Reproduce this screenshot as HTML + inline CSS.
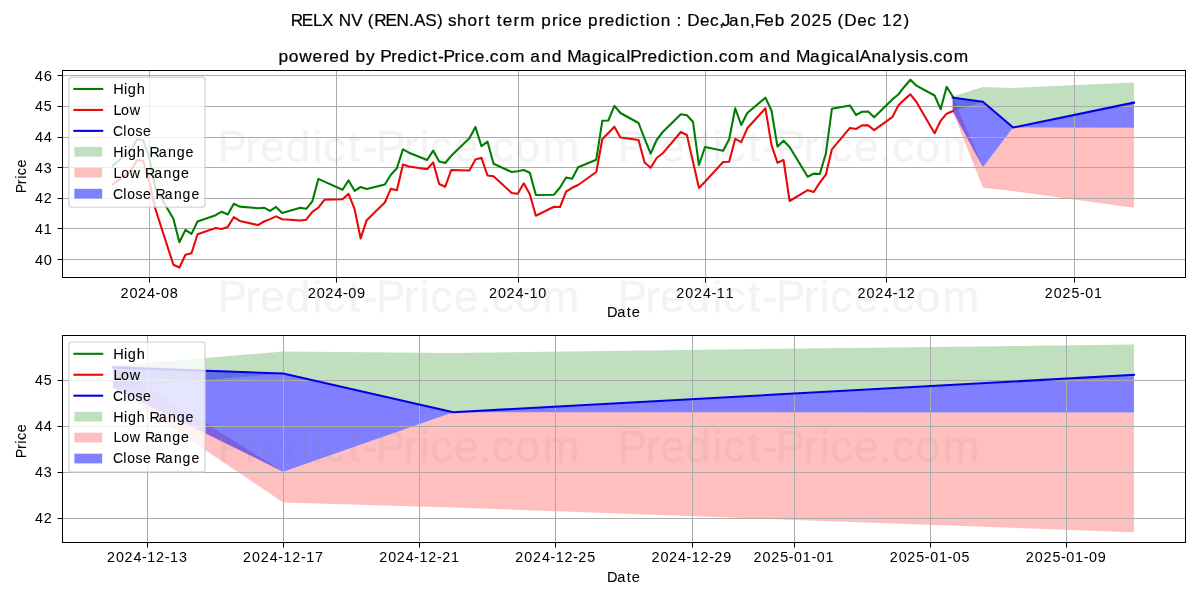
<!DOCTYPE html>
<html lang="en"><head><meta charset="utf-8"><title>RELX NV (REN.AS) short term price prediction</title>
<style>html,body{margin:0;padding:0;background:#fff}body{width:1200px;height:600px;overflow:hidden;font-family:"Liberation Sans",sans-serif}svg{display:block;will-change:transform}text{white-space:pre}</style>
</head><body>
<svg width="1200" height="600" viewBox="0 0 1200 600" font-family="'Liberation Sans', sans-serif">
<rect width="1200" height="600" fill="#fff"/>
<g>
<clipPath id="clip0"><rect x="61.9" y="70.33" width="1123.1" height="206.56"/></clipPath>
<g clip-path="url(#clip0)">
<polygon points="952.71,96.48 982.91,86.98 1013.12,87.96 1133.95,82.39 1133.95,102.6 1013.12,127.56 982.91,101.68 952.71,111.18" fill="#008000" fill-opacity="0.25"/>
<polygon points="952.71,96.48 982.91,167.23 1013.12,127.56 1133.95,127.72 1133.95,207.65 1013.12,191.11 982.91,187.75 952.71,111.18" fill="#ff0000" fill-opacity="0.25"/>
<polygon points="952.71,96.48 982.91,101.68 1013.12,127.56 1133.95,102.6 1133.95,127.72 1013.12,127.56 982.91,167.23 952.71,111.18" fill="#0000ff" fill-opacity="0.5"/>
<rect x="149" y="70" width="1" height="207" fill="#acacac"/>
<rect x="336" y="70" width="1" height="207" fill="#acacac"/>
<rect x="518" y="70" width="1" height="207" fill="#acacac"/>
<rect x="705" y="70" width="1" height="207" fill="#acacac"/>
<rect x="886" y="70" width="1" height="207" fill="#acacac"/>
<rect x="1074" y="70" width="1" height="207" fill="#acacac"/>
<rect x="62" y="259" width="1123" height="1" fill="#acacac"/>
<rect x="62" y="228" width="1123" height="1" fill="#acacac"/>
<rect x="62" y="198" width="1123" height="1" fill="#acacac"/>
<rect x="62" y="167" width="1123" height="1" fill="#acacac"/>
<rect x="62" y="137" width="1123" height="1" fill="#acacac"/>
<rect x="62" y="106" width="1123" height="1" fill="#acacac"/>
<rect x="62" y="75" width="1123" height="1" fill="#acacac"/>
<polyline points="112.95,165.5 131.08,150 137.12,139.3 143.16,140.3 149.2,157 155.24,188 173.37,218.8 179.41,242.3 185.45,229.9 191.49,233.9 197.53,221.5 215.66,215.2 221.7,211.7 227.74,214.5 233.78,203.8 239.82,206.6 257.95,208.2 263.99,207.7 270.03,210.9 276.07,206.9 282.11,212.9 300.24,207.7 306.28,208.8 312.32,201.3 318.36,178.9 324.4,181.6 342.53,189.7 348.57,180.4 354.61,190.8 360.65,187 366.69,189 384.82,184.5 390.86,174.7 396.9,168.3 402.94,149.3 408.98,152.7 427.11,160 433.15,150.6 439.19,161.5 445.23,163 451.27,155.8 469.4,138.3 475.44,127 481.48,146.2 487.52,141.7 493.56,163.8 511.69,172 517.73,171.2 523.77,170 529.81,172.8 535.85,195 553.98,194.7 560.02,187.5 566.06,177.5 572.1,178.7 578.14,167.2 596.27,159.7 602.31,120.8 608.35,120.5 614.39,105.8 620.43,113 638.55,123 644.6,138.7 650.64,153.7 656.68,140 662.72,132 680.84,114.2 686.89,115.3 692.93,121.7 698.97,165 705.01,147 723.13,150.8 729.18,139.2 735.22,108.3 741.26,125 747.3,113 765.42,97.7 771.47,110.5 777.51,146.6 783.55,140.7 789.59,147 807.71,176.7 813.76,173.6 819.8,174 825.84,153.8 831.88,108.8 850,105.6 856.05,115 862.09,111.7 868.13,111.5 874.17,117.3 892.29,99.4 898.34,94.5 904.38,86.7 910.42,79.72 916.46,85.7 934.58,95.5 940.63,109.2 946.67,86.7 952.71,96.3" fill="none" stroke="#007c00" stroke-width="2.08" stroke-linejoin="round" stroke-linecap="square"/>
<polyline points="112.95,184.3 131.08,170.8 137.12,160 143.16,160.8 149.2,181.5 155.24,208.5 173.37,264.7 179.41,267.5 185.45,254.8 191.49,253.2 197.53,234.3 215.66,228 221.7,229.1 227.74,226.9 233.78,217.2 239.82,220.9 257.95,225.1 263.99,221.5 270.03,219.1 276.07,216.4 282.11,219.3 300.24,220.5 306.28,219.7 312.32,211.8 318.36,207.7 324.4,199.8 342.53,199.2 348.57,193.9 354.61,209.2 360.65,238.5 366.69,220.2 384.82,202.5 390.86,188.7 396.9,190.2 402.94,164.5 408.98,166.5 427.11,169.3 433.15,162.4 439.19,184 445.23,186.7 451.27,170 469.4,170.5 475.44,159.5 481.48,157.8 487.52,175.5 493.56,176.3 511.69,193 517.73,193.8 523.77,183.3 529.81,194.2 535.85,215.8 553.98,206.7 560.02,207 566.06,191.7 572.1,187.8 578.14,185 596.27,172 602.31,139.2 608.35,133 614.39,126.7 620.43,137.5 638.55,140 644.6,162.5 650.64,167.8 656.68,158 662.72,153.3 680.84,132 686.89,135 692.93,161.5 698.97,188 705.01,181.7 723.13,162 729.18,161.7 735.22,138.8 741.26,142.2 747.3,128.3 765.42,108.3 771.47,144.8 777.51,162.8 783.55,160 789.59,201 807.71,190.2 813.76,192 819.8,182.6 825.84,174.7 831.88,149.3 850,127.9 856.05,129 862.09,125.4 868.13,125.4 874.17,130.1 892.29,117.2 898.34,105.6 904.38,99.6 910.42,94.3 916.46,102 934.58,133.2 940.63,120.8 946.67,113.7 952.71,111.2" fill="none" stroke="#e80808" stroke-width="2.08" stroke-linejoin="round" stroke-linecap="square"/>
<polyline points="952.71,97.7 982.91,101.68 1013.12,127.56 1133.95,102.6" fill="none" stroke="#0000e6" stroke-width="2.08" stroke-linejoin="round" stroke-linecap="square"/>
</g>
<rect x="149" y="278" width="1" height="4.5" fill="#000"/>
<rect x="336" y="278" width="1" height="4.5" fill="#000"/>
<rect x="518" y="278" width="1" height="4.5" fill="#000"/>
<rect x="705" y="278" width="1" height="4.5" fill="#000"/>
<rect x="886" y="278" width="1" height="4.5" fill="#000"/>
<rect x="1074" y="278" width="1" height="4.5" fill="#000"/>
<rect x="57.5" y="259" width="4.5" height="1" fill="#000"/>
<rect x="57.5" y="228" width="4.5" height="1" fill="#000"/>
<rect x="57.5" y="198" width="4.5" height="1" fill="#000"/>
<rect x="57.5" y="167" width="4.5" height="1" fill="#000"/>
<rect x="57.5" y="137" width="4.5" height="1" fill="#000"/>
<rect x="57.5" y="106" width="4.5" height="1" fill="#000"/>
<rect x="57.5" y="75" width="4.5" height="1" fill="#000"/>
<rect x="62" y="70" width="1" height="208" fill="#000"/>
<rect x="1185" y="70" width="1" height="208" fill="#000"/>
<rect x="62" y="70" width="1124" height="1" fill="#000"/>
<rect x="62" y="277" width="1124" height="1" fill="#000"/>
<text transform="translate(120.21,297.61) scale(0.9849,1)" x="0.18 9.34 18.11 27.26 35.94 41.32 50.27" y="0" font-size="14.72" fill="#000" stroke="#000" stroke-width="0.02">2024-08</text>
<text transform="translate(307.5,297.61) scale(0.9883,1)" x="0.17 9.3 18.03 27.15 35.81 41.16 50.05" y="0" font-size="14.72" fill="#000" stroke="#000" stroke-width="0.02">2024-09</text>
<text transform="translate(488.74,297.61) scale(0.9767,1)" x="0.22 9.46 18.29 27.52 36.26 41.62 50.74" y="0" font-size="14.72" fill="#000" stroke="#000" stroke-width="0.02">2024-10</text>
<text transform="translate(676.02,297.61) scale(0.9700,1)" x="0.25 9.55 18.45 27.74 36.53 41.94 51.04" y="0" font-size="14.72" fill="#000" stroke="#000" stroke-width="0.02">2024-11</text>
<text transform="translate(857.27,297.61) scale(0.9713,1)" x="0.24 9.53 18.42 27.7 36.48 41.88 50.84" y="0" font-size="14.72" fill="#000" stroke="#000" stroke-width="0.02">2024-12</text>
<text transform="translate(1044.55,297.61) scale(0.9673,1)" x="0.26 9.59 18.51 27.78 36.63 42.14 51.19" y="0" font-size="14.72" fill="#000" stroke="#000" stroke-width="0.02">2025-01</text>
<text transform="translate(34.6,264.61) scale(0.9924,1)" x="0.34 9.24" y="0" font-size="14.72" fill="#000" stroke="#000" stroke-width="0.02">40</text>
<text transform="translate(34.54,233.98) scale(0.9717,1)" x="0.43 9.45" y="0" font-size="14.72" fill="#000" stroke="#000" stroke-width="0.02">41</text>
<text transform="translate(34.6,203.35) scale(0.9757,1)" x="0.41 9.27" y="0" font-size="14.72" fill="#000" stroke="#000" stroke-width="0.02">42</text>
<text transform="translate(34.6,172.73) scale(0.9729,1)" x="0.43 9.52" y="0" font-size="14.72" fill="#000" stroke="#000" stroke-width="0.02">43</text>
<text transform="translate(34.6,142.1) scale(0.9937,1)" x="0.33 9.22" y="0" font-size="14.72" fill="#000" stroke="#000" stroke-width="0.02">44</text>
<text transform="translate(34.6,111.47) scale(0.9653,1)" x="0.46 9.56" y="0" font-size="14.72" fill="#000" stroke="#000" stroke-width="0.02">45</text>
<text transform="translate(34.54,80.84) scale(1.0088,1)" x="0.27 9.02" y="0" font-size="14.72" fill="#000" stroke="#000" stroke-width="0.02">46</text>
<text transform="translate(606.87,317.17) scale(1.0047,1)" x="0.1 10.32 19.76 24.76" y="0" font-size="14.51" fill="#000" stroke="#000" stroke-width="0.07">Date</text>
<text transform="translate(26,193.03) rotate(-90) scale(0.9824,1)" x="-0.34 9.03 14.43 18.08 26.1" y="0" font-size="14.51" fill="#000" stroke="#000" stroke-width="0.07">Price</text>
<text transform="translate(277.89,62) scale(0.9942,1)" x="0.58 10.9 21.41 34.87 45.68 51.66 61.97 72.21 78.1 88.74 98.03 102.87 114.06 120.03 130.34 140.98 145.28 155.24 161.1 166.53 177.72 184.12 188.42 197.9 208.08 213.21 222.64 233.53 248.87 253.85 264.94 275.4 285.64 290.94 305.05 316 326.65 330.95 339.75 350.72 354.5 365.69 371.66 381.97 392.61 396.91 406.87 413.01 417.54 427.99 438.31 443.45 452.87 463.77 479.11 484.08 495.18 505.64 515.88 521.17 535.28 546.24 556.89 561.19 569.98 580.96 585.13 597.16 606.91 617.89 622.74 632.17 641.16 645.52 654.34 659.48 668.9 679.8" y="0" font-size="17.42" fill="#000" stroke="#000" stroke-width="0.22">powered by Predict-Price.com and MagicalPrediction.com and MagicalAnalysis.com</text>
<rect x="68.85" y="77.28" width="136.25" height="129.83" rx="2.78" ry="2.78" fill="#fff" fill-opacity="0.8" stroke="#ccc" stroke-opacity="0.8" stroke-width="1.39"/>
<line x1="74.4" y1="88.97" x2="102.18" y2="88.97" stroke="#007c00" stroke-width="2.08" stroke-linecap="square"/>
<text transform="translate(113.28,93.83) scale(1.0028,1)" x="-0.04 10.73 14.53 23.39" y="0" font-size="14.51" fill="#000" stroke="#000" stroke-width="0.07">High</text>
<line x1="74.4" y1="109.92" x2="102.18" y2="109.92" stroke="#e80808" stroke-width="2.08" stroke-linecap="square"/>
<text transform="translate(113.32,114.78) scale(0.9869,1)" x="0.19 7.86 16.68" y="0" font-size="14.51" fill="#000" stroke="#000" stroke-width="0.07">Low</text>
<line x1="74.4" y1="130.86" x2="102.18" y2="130.86" stroke="#0000e6" stroke-width="2.08" stroke-linecap="square"/>
<text transform="translate(113.27,135.72) scale(0.9594,1)" x="-0.26 10.5 14.51 23.2 30.94" y="0" font-size="14.51" fill="#000" stroke="#000" stroke-width="0.07">Close</text>
<rect x="74.4" y="146.94" width="27.78" height="9.72" fill="#008000" fill-opacity="0.25"/>
<text transform="translate(113.31,156.67) scale(0.9821,1)" x="0.07 10.99 14.91 23.97 32.47 36.86 46.3 55.65 64.5 73.45" y="0" font-size="14.51" fill="#000" stroke="#000" stroke-width="0.07">High Range</text>
<rect x="74.4" y="167.89" width="27.78" height="9.72" fill="#ff0000" fill-opacity="0.25"/>
<text transform="translate(113.35,177.61) scale(0.9763,1)" x="0.23 7.98 16.92 27.98 32.43 41.92 51.32 60.22 69.22" y="0" font-size="14.51" fill="#000" stroke="#000" stroke-width="0.07">Low Range</text>
<rect x="74.4" y="188.83" width="27.78" height="9.72" fill="#0000ff" fill-opacity="0.5"/>
<text transform="translate(113.3,198.56) scale(0.9647,1)" x="-0.29 10.43 14.41 23.05 30.75 39.18 43.75 53.34 62.85 71.86 80.97" y="0" font-size="14.51" fill="#000" stroke="#000" stroke-width="0.07">Close Range</text>
</g>
<g>
<clipPath id="clip1"><rect x="61.9" y="335.17" width="1123.1" height="206.56"/></clipPath>
<g clip-path="url(#clip1)">
<polygon points="112.95,365.67 283.12,351.44 453.29,352.91 1133.95,344.56 1133.95,374.86 453.29,412.27 283.12,373.48 112.95,387.71" fill="#008000" fill-opacity="0.25"/>
<polygon points="112.95,365.67 283.12,471.73 453.29,412.27 1133.95,412.5 1133.95,532.33 453.29,507.54 283.12,502.49 112.95,387.71" fill="#ff0000" fill-opacity="0.25"/>
<polygon points="112.95,365.67 283.12,373.48 453.29,412.27 1133.95,374.86 1133.95,412.5 453.29,412.27 283.12,471.73 112.95,387.71" fill="#0000ff" fill-opacity="0.5"/>
<rect x="147" y="335" width="1" height="207" fill="#acacac"/>
<rect x="283" y="335" width="1" height="207" fill="#acacac"/>
<rect x="419" y="335" width="1" height="207" fill="#acacac"/>
<rect x="555" y="335" width="1" height="207" fill="#acacac"/>
<rect x="692" y="335" width="1" height="207" fill="#acacac"/>
<rect x="794" y="335" width="1" height="207" fill="#acacac"/>
<rect x="930" y="335" width="1" height="207" fill="#acacac"/>
<rect x="1066" y="335" width="1" height="207" fill="#acacac"/>
<rect x="62" y="518" width="1123" height="1" fill="#acacac"/>
<rect x="62" y="472" width="1123" height="1" fill="#acacac"/>
<rect x="62" y="426" width="1123" height="1" fill="#acacac"/>
<rect x="62" y="380" width="1123" height="1" fill="#acacac"/>
<polyline points="112.95,367.51 283.12,373.48 453.29,412.27 1133.95,374.86" fill="none" stroke="#0000e6" stroke-width="2.08" stroke-linejoin="round" stroke-linecap="square"/>
</g>
<rect x="147" y="543" width="1" height="4.5" fill="#000"/>
<rect x="283" y="543" width="1" height="4.5" fill="#000"/>
<rect x="419" y="543" width="1" height="4.5" fill="#000"/>
<rect x="555" y="543" width="1" height="4.5" fill="#000"/>
<rect x="692" y="543" width="1" height="4.5" fill="#000"/>
<rect x="794" y="543" width="1" height="4.5" fill="#000"/>
<rect x="930" y="543" width="1" height="4.5" fill="#000"/>
<rect x="1066" y="543" width="1" height="4.5" fill="#000"/>
<rect x="57.5" y="518" width="4.5" height="1" fill="#000"/>
<rect x="57.5" y="472" width="4.5" height="1" fill="#000"/>
<rect x="57.5" y="426" width="4.5" height="1" fill="#000"/>
<rect x="57.5" y="380" width="4.5" height="1" fill="#000"/>
<rect x="62" y="335" width="1" height="208" fill="#000"/>
<rect x="1185" y="335" width="1" height="208" fill="#000"/>
<rect x="62" y="335" width="1124" height="1" fill="#000"/>
<rect x="62" y="542" width="1124" height="1" fill="#000"/>
<text transform="translate(106.67,562.44) scale(0.9690,1)" x="0.25 9.56 18.47 27.77 36.57 41.99 50.97 59.95 65.37 74.57" y="0" font-size="14.72" fill="#000" stroke="#000" stroke-width="0.02">2024-12-13</text>
<text transform="translate(242.8,562.44) scale(0.9709,1)" x="0.24 9.54 18.43 27.71 36.49 41.9 50.86 59.83 65.24 74.37" y="0" font-size="14.72" fill="#000" stroke="#000" stroke-width="0.02">2024-12-17</text>
<text transform="translate(378.93,562.44) scale(0.9696,1)" x="0.25 9.55 18.46 27.75 36.54 41.96 50.93 59.91 65.2 74.43" y="0" font-size="14.72" fill="#000" stroke="#000" stroke-width="0.02">2024-12-21</text>
<text transform="translate(515.07,562.44) scale(0.9682,1)" x="0.26 9.58 18.49 27.8 36.6 42.03 51.02 60.01 65.31 74.57" y="0" font-size="14.72" fill="#000" stroke="#000" stroke-width="0.02">2024-12-25</text>
<text transform="translate(651.2,562.44) scale(0.9782,1)" x="0.21 9.43 18.26 27.47 36.2 41.55 50.45 59.37 64.59 73.78" y="0" font-size="14.72" fill="#000" stroke="#000" stroke-width="0.02">2024-12-29</text>
<text transform="translate(753.3,562.44) scale(0.9708,1)" x="0.24 9.54 18.43 27.67 36.5 41.98 51 59.84 65.32 74.34" y="0" font-size="14.72" fill="#000" stroke="#000" stroke-width="0.02">2025-01-01</text>
<text transform="translate(889.43,562.44) scale(0.9693,1)" x="0.25 9.56 18.47 27.72 36.56 42.05 51.08 59.94 65.43 74.48" y="0" font-size="14.72" fill="#000" stroke="#000" stroke-width="0.02">2025-01-05</text>
<text transform="translate(1025.57,562.44) scale(0.9793,1)" x="0.21 9.42 18.23 27.39 36.16 41.58 50.51 59.3 64.72 73.69" y="0" font-size="14.72" fill="#000" stroke="#000" stroke-width="0.02">2025-01-09</text>
<text transform="translate(34.6,523.14) scale(0.9757,1)" x="0.41 9.27" y="0" font-size="14.72" fill="#000" stroke="#000" stroke-width="0.02">42</text>
<text transform="translate(34.6,477.23) scale(0.9729,1)" x="0.43 9.52" y="0" font-size="14.72" fill="#000" stroke="#000" stroke-width="0.02">43</text>
<text transform="translate(34.6,431.32) scale(0.9937,1)" x="0.33 9.22" y="0" font-size="14.72" fill="#000" stroke="#000" stroke-width="0.02">44</text>
<text transform="translate(34.6,385.41) scale(0.9653,1)" x="0.46 9.56" y="0" font-size="14.72" fill="#000" stroke="#000" stroke-width="0.02">45</text>
<text transform="translate(606.87,582) scale(1.0047,1)" x="0.1 10.32 19.76 24.76" y="0" font-size="14.51" fill="#000" stroke="#000" stroke-width="0.07">Date</text>
<text transform="translate(26.12,457.87) rotate(-90) scale(0.9824,1)" x="-0.34 9.03 14.43 18.08 26.1" y="0" font-size="14.51" fill="#000" stroke="#000" stroke-width="0.07">Price</text>
<rect x="68.85" y="342.11" width="136.25" height="129.83" rx="2.78" ry="2.78" fill="#fff" fill-opacity="0.8" stroke="#ccc" stroke-opacity="0.8" stroke-width="1.39"/>
<line x1="74.4" y1="353.81" x2="102.18" y2="353.81" stroke="#007c00" stroke-width="2.08" stroke-linecap="square"/>
<text transform="translate(113.28,358.67) scale(1.0028,1)" x="-0.04 10.73 14.53 23.39" y="0" font-size="14.51" fill="#000" stroke="#000" stroke-width="0.07">High</text>
<line x1="74.4" y1="374.75" x2="102.18" y2="374.75" stroke="#e80808" stroke-width="2.08" stroke-linecap="square"/>
<text transform="translate(113.32,379.61) scale(0.9869,1)" x="0.19 7.86 16.68" y="0" font-size="14.51" fill="#000" stroke="#000" stroke-width="0.07">Low</text>
<line x1="74.4" y1="395.69" x2="102.18" y2="395.69" stroke="#0000e6" stroke-width="2.08" stroke-linecap="square"/>
<text transform="translate(113.27,400.56) scale(0.9594,1)" x="-0.26 10.5 14.51 23.2 30.94" y="0" font-size="14.51" fill="#000" stroke="#000" stroke-width="0.07">Close</text>
<rect x="74.4" y="411.78" width="27.78" height="9.72" fill="#008000" fill-opacity="0.25"/>
<text transform="translate(113.31,421.5) scale(0.9821,1)" x="0.07 10.99 14.91 23.97 32.47 36.86 46.3 55.65 64.5 73.45" y="0" font-size="14.51" fill="#000" stroke="#000" stroke-width="0.07">High Range</text>
<rect x="74.4" y="432.72" width="27.78" height="9.72" fill="#ff0000" fill-opacity="0.25"/>
<text transform="translate(113.35,442.44) scale(0.9763,1)" x="0.23 7.98 16.92 27.98 32.43 41.92 51.32 60.22 69.22" y="0" font-size="14.51" fill="#000" stroke="#000" stroke-width="0.07">Low Range</text>
<rect x="74.4" y="453.67" width="27.78" height="9.72" fill="#0000ff" fill-opacity="0.5"/>
<text transform="translate(113.3,463.39) scale(0.9647,1)" x="-0.29 10.43 14.41 23.05 30.75 39.18 43.75 53.34 62.85 71.86 80.97" y="0" font-size="14.51" fill="#000" stroke="#000" stroke-width="0.07">Close Range</text>
</g>
<text transform="translate(290.8,26) scale(0.9828,1)" x="-0.12 11.25 22.68 31.85 43.46 48.89 61.47 73.06 78.41 84.91 96.28 107.53 120.4 125.49 136.74 148.66 154.42 159.97 169.15 179.68 190.6 197.5 203.27 209.51 215.69 226.61 233.43 248.86 254.88 265.9 272.36 276.74 286.34 296.34 302.36 313.38 319.44 329.87 340.6 344.98 355.04 361.24 365.85 376.43 386.58 392.39 397.65 403.3 416.47 426.57 435.86 438.53 445.85 457.07 467.32 472.12 481.85 492.49 502.58 508.28 519.26 529.81 540.72 551.01 556.36 563.26 576.42 586.53 595.72 601.56 612.18 623.47" y="0" font-size="17.42" fill="#000" stroke="#000" stroke-width="0.22">RELX NV (REN.AS) short term price prediction : Dec,Jan,Feb 2025 (Dec 12)</text>
<text transform="translate(218.97,462) scale(1.0153,1)" x="-1.47 25.94 40.57 65.87 92.1 102.52 127.05 141.38 154.55 181.97 197.74 208.16 231.39 256.47 268.95 292.04 318.63" y="0" font-size="43.54" fill="#808080" opacity="0.09" stroke="#808080" stroke-width="0.3">Predict-Price.com</text>
<text transform="translate(218.97,312) scale(1.0153,1)" x="-1.47 25.94 40.57 65.87 92.1 102.52 127.05 141.38 154.55 181.97 197.74 208.16 231.39 256.47 268.95 292.04 318.63" y="0" font-size="43.54" fill="#808080" opacity="0.09" stroke="#808080" stroke-width="0.3">Predict-Price.com</text>
<text transform="translate(218.97,162) scale(1.0153,1)" x="-1.47 25.94 40.57 65.87 92.1 102.52 127.05 141.38 154.55 181.97 197.74 208.16 231.39 256.47 268.95 292.04 318.63" y="0" font-size="43.54" fill="#808080" opacity="0.09" stroke="#808080" stroke-width="0.3">Predict-Price.com</text>
<text transform="translate(618.97,462) scale(1.0153,1)" x="-1.47 25.94 40.57 65.87 92.1 102.52 127.05 141.38 154.55 181.97 197.74 208.16 231.39 256.47 268.95 292.04 318.63" y="0" font-size="43.54" fill="#808080" opacity="0.09" stroke="#808080" stroke-width="0.3">Predict-Price.com</text>
<text transform="translate(618.97,312) scale(1.0153,1)" x="-1.47 25.94 40.57 65.87 92.1 102.52 127.05 141.38 154.55 181.97 197.74 208.16 231.39 256.47 268.95 292.04 318.63" y="0" font-size="43.54" fill="#808080" opacity="0.09" stroke="#808080" stroke-width="0.3">Predict-Price.com</text>
<text transform="translate(618.97,162) scale(1.0153,1)" x="-1.47 25.94 40.57 65.87 92.1 102.52 127.05 141.38 154.55 181.97 197.74 208.16 231.39 256.47 268.95 292.04 318.63" y="0" font-size="43.54" fill="#808080" opacity="0.09" stroke="#808080" stroke-width="0.3">Predict-Price.com</text>
</svg>
</body></html>
